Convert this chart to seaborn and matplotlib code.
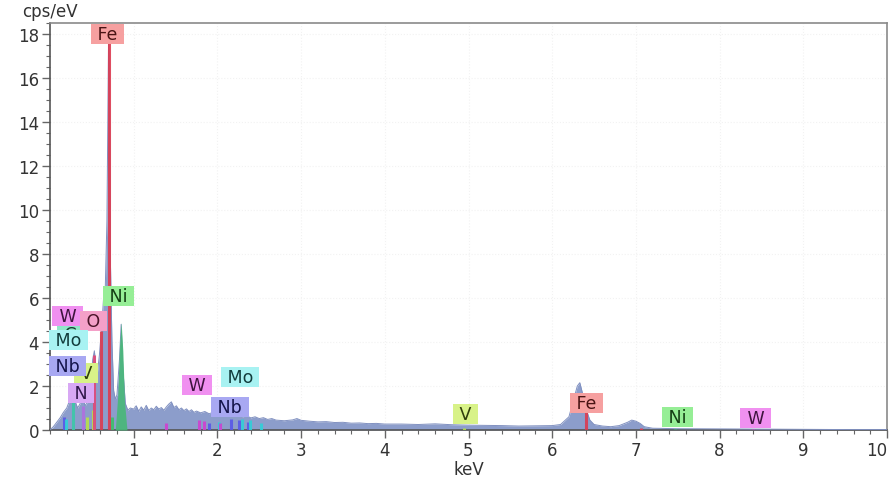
import matplotlib
matplotlib.use("Agg")
import matplotlib.pyplot as plt
import seaborn as sns
import pandas as pd
from matplotlib.ticker import MultipleLocator, FixedLocator

# ---------------- data ----------------
energy_keV = [0.00, 0.04, 0.08, 0.12, 0.16, 0.20, 0.24, 0.27, 0.30, 0.33, 0.36, 0.39,
              0.42, 0.45, 0.48, 0.51, 0.53, 0.56, 0.59, 0.62, 0.64, 0.66, 0.68, 0.70,
              0.71, 0.72, 0.74, 0.76, 0.78, 0.80, 0.83, 0.85, 0.87, 0.90, 0.93, 0.96,
              1.00, 1.03, 1.06, 1.09, 1.12, 1.15, 1.18, 1.21, 1.24, 1.27, 1.30, 1.33,
              1.36, 1.39, 1.42, 1.45, 1.48, 1.51, 1.54, 1.57, 1.60, 1.63, 1.66, 1.69,
              1.72, 1.75, 1.80, 1.85, 1.90, 1.95, 2.00, 2.05, 2.10, 2.15, 2.20, 2.25,
              2.30, 2.35, 2.40, 2.45, 2.50, 2.55, 2.60, 2.65, 2.70, 2.80, 2.90, 2.95,
              3.00, 3.10, 3.20, 3.30, 3.40, 3.50, 3.60, 3.70, 3.80, 3.90, 4.00, 4.20,
              4.40, 4.60, 4.80, 5.00, 5.20, 5.40, 5.60, 5.80, 6.00, 6.10, 6.20, 6.25,
              6.30, 6.33, 6.36, 6.40, 6.45, 6.50, 6.60, 6.70, 6.80, 6.90, 6.95, 7.00,
              7.05, 7.10, 7.20, 7.50, 8.00, 8.50, 9.00, 9.50, 10.00]
cps = [0.00, 0.15, 0.35, 0.55, 0.80, 1.00, 1.40, 1.90, 1.30, 1.00, 1.20, 1.50,
       1.10, 1.30, 1.80, 3.20, 3.60, 2.40, 3.40, 4.80, 6.00, 6.40, 9.50, 17.90,
       16.00, 8.00, 4.00, 1.80, 1.40, 1.60, 3.20, 4.80, 2.80, 1.20, 0.90, 1.00,
       0.95, 1.10, 0.85, 1.05, 0.90, 1.12, 0.88, 1.00, 0.92, 1.08, 0.95, 1.02,
       0.90, 1.05, 1.18, 1.28, 1.02, 1.10, 0.92, 1.00, 0.88, 0.96, 0.84, 0.92,
       0.80, 0.86, 0.78, 0.84, 0.74, 0.80, 0.70, 0.76, 0.66, 0.72, 0.62, 0.66,
       0.60, 0.64, 0.55, 0.60, 0.52, 0.56, 0.48, 0.52, 0.45, 0.42, 0.46, 0.52,
       0.44, 0.40, 0.37, 0.38, 0.34, 0.35, 0.31, 0.32, 0.29, 0.30, 0.27, 0.27,
       0.25, 0.28, 0.24, 0.22, 0.21, 0.20, 0.18, 0.19, 0.20, 0.25, 0.60, 1.30,
       2.00, 2.15, 1.70, 1.00, 0.45, 0.25, 0.18, 0.15, 0.20, 0.35, 0.45, 0.40,
       0.30, 0.15, 0.08, 0.06, 0.05, 0.04, 0.03, 0.02, 0.02]

# Ni L peak (deconvolved, green fill)
ni_peak_keV = [0.78, 0.81, 0.83, 0.85, 0.87, 0.89, 0.92]
ni_peak_cps = [0.00, 1.60, 3.80, 4.90, 3.60, 1.30, 0.00]

# element marker lines
line_element = ["Nb", "Mo", "C", "N", "V", "V", "O", "Fe", "Fe", "Ni",
                "W", "W", "W", "Nb", "Mo", "W", "Nb", "Nb", "Mo", "Nb", "Mo", "Mo",
                "V", "Fe", "Fe", "Ni", "W"]
line_keV = [0.17, 0.19, 0.277, 0.392, 0.446, 0.511, 0.525, 0.615, 0.705, 0.743,
            1.38, 1.775, 1.835, 1.902, 2.016, 2.035, 2.166, 2.257, 2.293, 2.367, 2.395, 2.518,
            4.95, 6.40, 7.06, 7.47, 8.40]
line_height = [0.6, 0.5, 1.9, 1.1, 0.6, 0.9, 3.4, 4.5, 17.9, 0.6,
               0.3, 0.45, 0.4, 0.3, 0.35, 0.3, 0.5, 0.45, 0.5, 0.35, 0.45, 0.3,
               0.1, 0.85, 0.1, 0.05, 0.05]

# labels (drawn in this order; later ones on top)
label_names = ["Fe", "Ni", "C", "W", "O", "V", "Mo", "Nb", "N",
               "W", "Mo", "Nb", "V", "Fe", "Ni", "W"]
label_x = [0.69, 0.82, 0.24, 0.21, 0.52, 0.43, 0.22, 0.21, 0.37,
           1.76, 2.27, 2.15, 4.96, 6.41, 7.50, 8.43]
label_y = [18.0, 6.1, 4.35, 5.2, 4.95, 2.6, 4.1, 2.9, 1.7,
           2.05, 2.4, 1.05, 0.73, 1.23, 0.6, 0.55]

x_ticks = [1, 2, 3, 4, 5, 6, 7, 8, 9, 10]
y_ticks = [0, 2, 4, 6, 8, 10, 12, 14, 16, 18]

# ---------------- styles ----------------
line_colors = {"Fe": "#dc3a50", "Ni": "#3cbf6a", "W": "#d040d0", "O": "#e04878",
               "Mo": "#30d0d8", "Nb": "#5858e8", "V": "#b8e048", "N": "#b070e0",
               "C": "#3cc8a8"}
box_colors = {"Fe": "#f6a0a0", "Ni": "#96ee96", "W": "#f090f0", "O": "#f4a0c8",
              "Mo": "#a8f2f2", "Nb": "#a8a8f2", "V": "#d8f288", "N": "#d8a8f4",
              "C": "#90e6c8"}
text_colors = {"Fe": "#4a1414", "Ni": "#143e14", "W": "#3e143e", "O": "#4a1428",
               "Mo": "#123c3c", "Nb": "#14144a", "V": "#303e0c", "N": "#30164a",
               "C": "#143e30"}

sns.set_theme(style="white")
plt.rcParams["font.family"] = ["DejaVu Sans"]

fig = plt.figure(figsize=(8.94, 4.85), dpi=100)
ax = fig.add_axes([50 / 894, 1 - 431 / 485, 837 / 894, 407 / 485])

df = pd.DataFrame({"keV": energy_keV, "cps": cps})
ax.fill_between(df["keV"], 0, df["cps"], color="#8c9dcb", lw=0, zorder=2)
sns.lineplot(data=df, x="keV", y="cps", ax=ax, color="#8090c0", lw=0.7, zorder=3)

ax.fill_between(ni_peak_keV, 0, ni_peak_cps, color="#48b878", alpha=0.9, lw=0, zorder=4)

for el, e, h in zip(line_element, line_keV, line_height):
    ax.plot([e, e], [0, h], color=line_colors[el], lw=2.2, alpha=0.9,
            solid_capstyle="butt", zorder=5)

for name, lx, ly in zip(label_names, label_x, label_y):
    ax.text(lx, ly, " " + name + " ", ha="center", va="center", fontsize=12.5,
            color=text_colors[name], zorder=10,
            bbox=dict(boxstyle="square,pad=0.06", fc=box_colors[name], ec="none"))

ax.set_xlim(0, 10)
ax.set_ylim(0, 18.5)
ax.xaxis.set_major_locator(FixedLocator(x_ticks))
ax.yaxis.set_major_locator(FixedLocator(y_ticks))
ax.xaxis.set_minor_locator(MultipleLocator(0.2))
ax.yaxis.set_minor_locator(MultipleLocator(0.5))
ax.tick_params(which="major", direction="out", length=6, width=1, color="#666666",
               labelsize=12, labelcolor="#333333", bottom=True, left=True, pad=2)
ax.tick_params(which="minor", direction="out", length=3, width=0.8, color="#666666",
               bottom=True, left=True)
ax.grid(True, which="major", color="#f2f2f2", lw=0.8, ls=":")
for s in ax.spines.values():
    s.set_color("#8a8a8a")
    s.set_linewidth(1.2)
ax.spines["bottom"].set_color("#555555")
ax.spines["left"].set_color("#555555")

# last x tick label sits left of its tick, as in the reference
fig.canvas.draw()
xlabels = ax.get_xticklabels()
xlabels[-1].set_horizontalalignment("right")
xlabels[-1].set_x(10)

ax.set_xlabel("keV", fontsize=12, color="#333333", labelpad=1)
ax.set_ylabel("")
fig.text(50 / 894, 1 - 12 / 485, "cps/eV", ha="center", va="center",
         fontsize=12, color="#333333")

fig.savefig("out.png", dpi=100)
